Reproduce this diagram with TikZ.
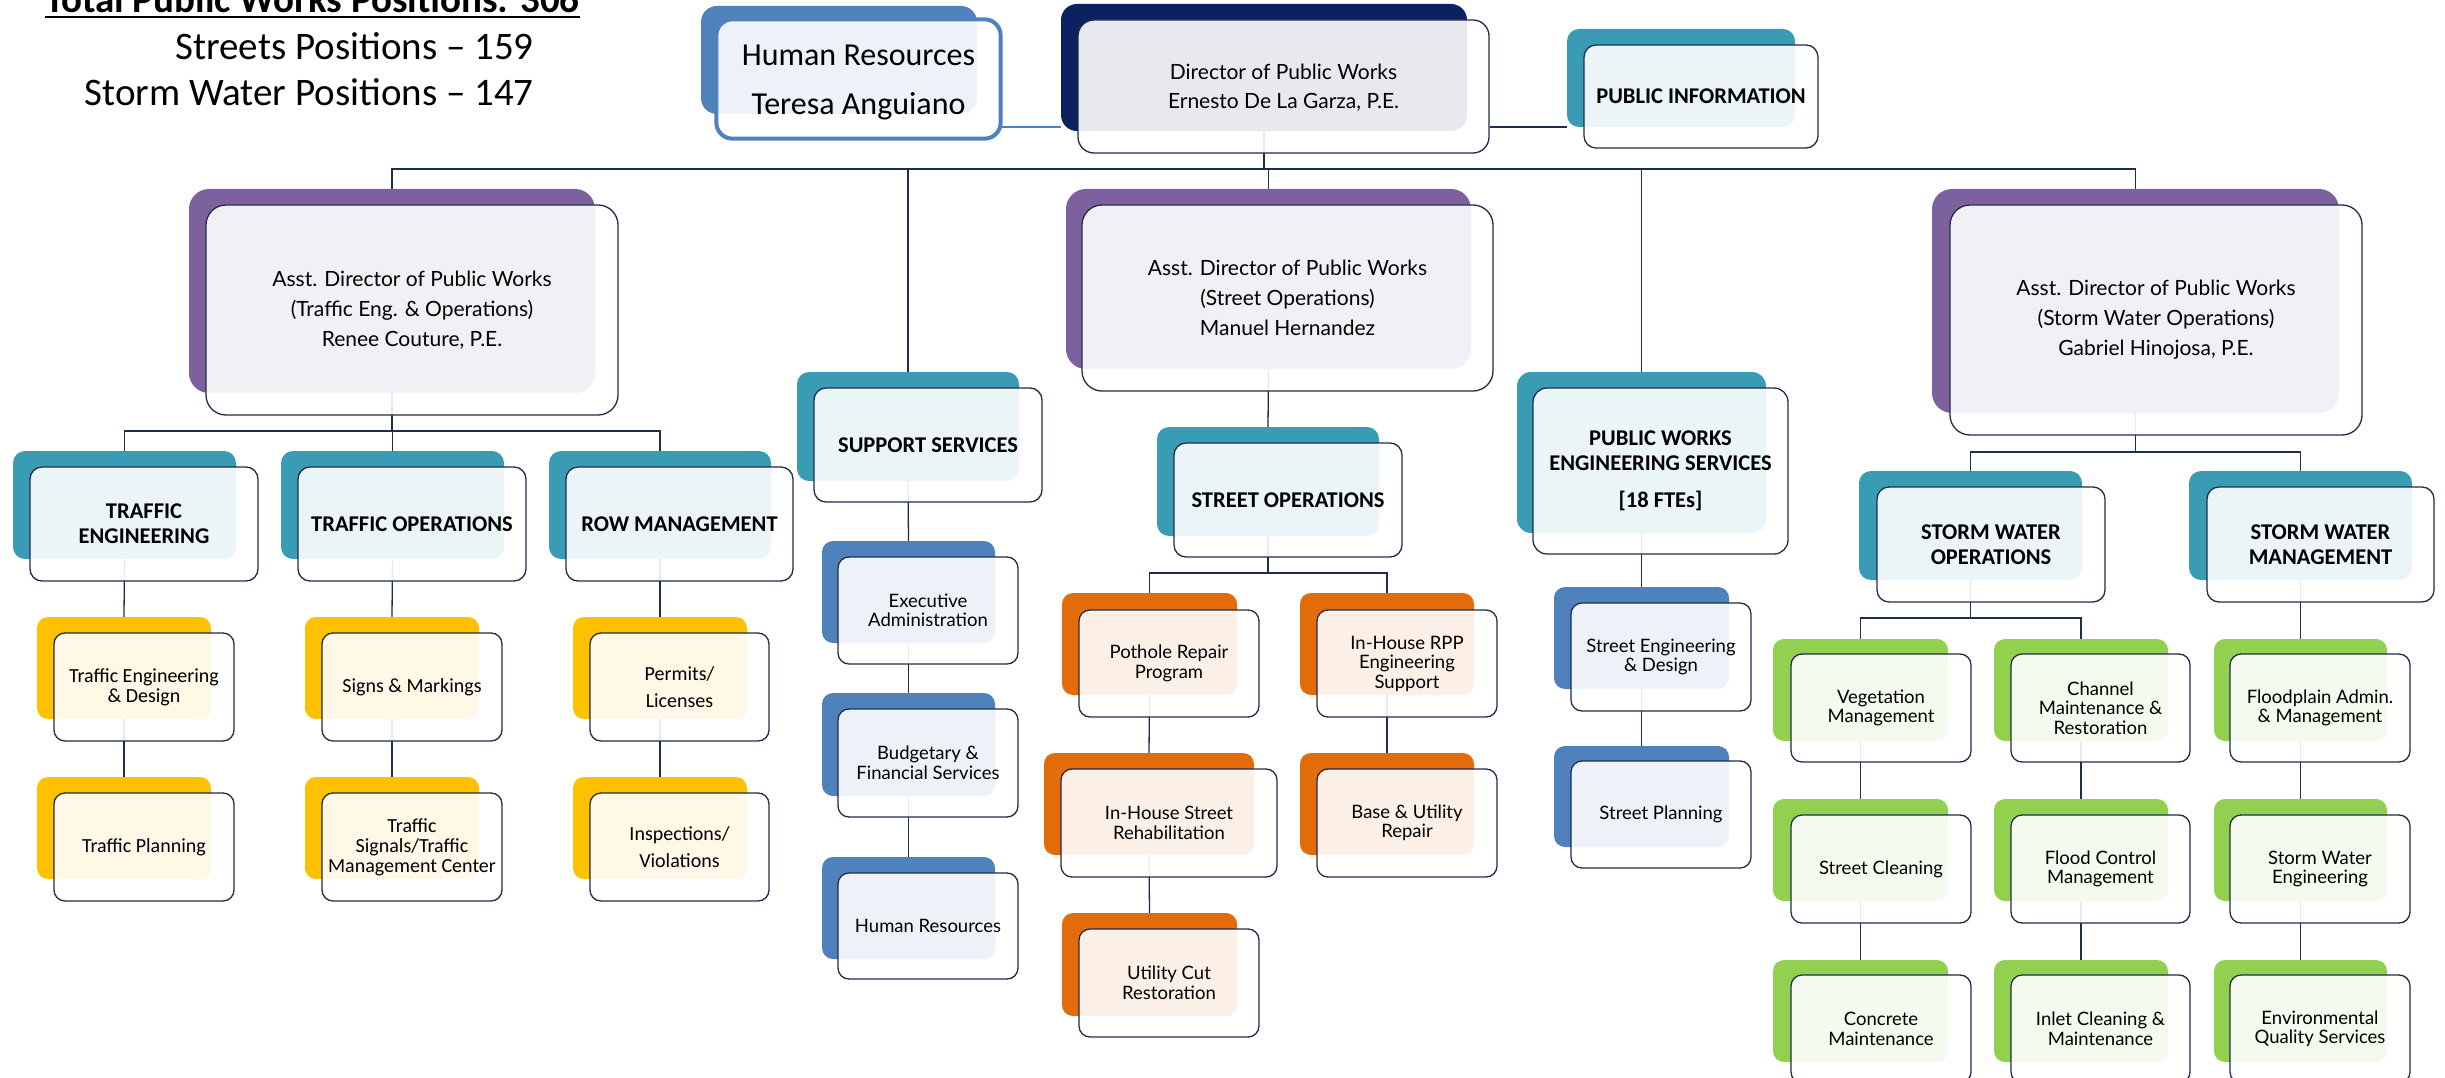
\documentclass[tikz,border=0pt]{standalone}
\usepackage{fontspec}
\setmainfont{Carlito}
\newfontfamily\latof{Lato}
\usetikzlibrary{fit}
\pgfdeclarelayer{bg}
\pgfsetlayers{bg,main}
\definecolor{navyc}{HTML}{0B2160}
\definecolor{tealc}{HTML}{3A9BB5}
\definecolor{purplec}{HTML}{7D619E}
\definecolor{bluec}{HTML}{4F81BD}
\definecolor{orangec}{HTML}{E36C0A}
\definecolor{yellowc}{HTML}{FFC000}
\definecolor{greenc}{HTML}{92D050}
\definecolor{linec}{HTML}{1F2D4A}
\tikzset{
  backbox/.style={inner sep=0pt, draw=none},
  frontbox/.style={inner sep=0pt, draw=linec, line width=1.3pt, fill=white, fill opacity=0.9},
  boxtext/.style={inner sep=0pt, align=center, text=black, anchor=center},
  conn/.style={draw=linec, line width=1.3pt},
  hrf/.style={font=\fontsize{32}{49}\selectfont, yshift=-3pt},
  asstf/.style={font=\latof\fontsize{21}{30}\selectfont},
  dirf/.style={font=\latof\fontsize{21}{29}\selectfont, yshift=-1pt},
  headf/.style={font=\bfseries\fontsize{22.5}{25}\selectfont},
  yelf/.style={font=\fontsize{20}{20}\selectfont},
  itemf/.style={font=\latof\fontsize{18.5}{19.5}\selectfont},
}
% name, colour, back corner 1, back corner 2, front corner 1, front corner 2, radius, style, text
\newcommand\ob[9]{%
  \node[backbox, fill=#2, rounded corners=#7, fit={(#3) (#4)}] (#1B) {};
  \node[frontbox, rounded corners=#7, fit={(#5) (#6)}] (#1) {};
  \node[boxtext, #8] (#1T) at (#1.center) {#9};}
\begin{document}
\begin{tikzpicture}[x=1pt,y=-1pt]
\path[use as bounding box] (0,0) rectangle (2445,1078);
\begin{pgfonlayer}{bg}
\fill[white] (0,0) rectangle (2445,1078);
\end{pgfonlayer}
\clip (0,0) rectangle (2445,1078);

% headline texts
\node[anchor=base west, inner sep=0pt, font=\bfseries\fontsize{39}{47}\selectfont] (title) at (45,13) {Total Public Works Positions: 306};
\draw[line width=2.5pt] ([yshift=-4pt]title.base west) -- ([yshift=-4pt]title.base east);
\node[anchor=base east, inner sep=0pt, font=\fontsize{39}{47}\selectfont] (streets) at (534,60) {Streets Positions – 159};
\node[anchor=base east, inner sep=0pt, font=\fontsize{39}{47}\selectfont] (stormpos) at (534,106) {Storm Water Positions – 147};

% top row
\ob{hrtop}{bluec}{701,6}{977,114}{717,20}{1000,138}{16pt}{hrf}{Human Resources\\Teresa Anguiano}
\draw[draw=bluec, line width=4pt, rounded corners=16pt] (hrtop.south west) rectangle (hrtop.north east);
\ob{director}{navyc}{1061,4}{1467,131}{1078,20}{1489,153}{16pt}{dirf}{Director of Public Works\\Ernesto De La Garza, P.E.}
\ob{pubinfo}{tealc}{1567,29}{1795,127}{1584,45}{1818,148}{12pt}{headf}{PUBLIC INFORMATION}

% assistant directors
\ob{trafA}{purplec}{189,189}{595,393}{206,205}{618,415}{20pt}{asstf}{Asst. Director of Public Works\\(Traffic Eng. \& Operations)\\Renee Couture, P.E.}
\ob{streetA}{purplec}{1066,189}{1471,369}{1082,205}{1493,391}{20pt}{asstf}{Asst. Director of Public Works\\(Street Operations)\\Manuel Hernandez}
\ob{stormA}{purplec}{1932,189}{2339,413}{1950,205}{2362,435}{20pt}{asstf}{Asst. Director of Public Works\\(Storm Water Operations)\\Gabriel Hinojosa, P.E.}

% traffic
\ob{te}{tealc}{13,451}{236,559}{30,467}{258,581}{12pt}{headf}{TRAFFIC\\ENGINEERING}
\ob{tops}{tealc}{281,451}{504,559}{298,467}{526,581}{12pt}{headf}{TRAFFIC OPERATIONS}
\ob{row}{tealc}{549,451}{771,559}{566,467}{793,581}{12pt}{headf}{ROW MANAGEMENT}
\ob{ted}{yellowc}{37,617}{211,719}{54,633}{234,741}{11pt}{yelf}{Traffic Engineering\\\& Design}
\ob{tp}{yellowc}{37,777}{211,879}{54,793}{234,901}{11pt}{yelf}{Traffic Planning}
\ob{sm}{yellowc}{305,617}{479,719}{322,633}{502,741}{11pt}{yelf}{Signs \& Markings}
\ob{ts}{yellowc}{305,777}{479,879}{322,793}{502,901}{11pt}{yelf}{Traffic\\Signals/Traffic\\Management Center}
\ob{pl}{yellowc}{573,617}{747,719}{590,633}{769,741}{11pt}{yelf}{Permits/\\[7pt]Licenses}
\ob{iv}{yellowc}{573,777}{747,879}{590,793}{769,901}{11pt}{yelf}{Inspections/\\[7pt]Violations}

% support services
\ob{ss}{tealc}{797,372}{1019,481}{814,388}{1042,502}{12pt}{headf}{SUPPORT SERVICES}
\ob{ea}{bluec}{822,541}{995,643}{838,557}{1018,664}{11pt}{itemf}{Executive\\Administration}
\ob{bf}{bluec}{822,693}{995,796}{838,709}{1018,817}{11pt}{itemf}{Budgetary \&\\Financial Services}
\ob{hrb}{bluec}{822,857}{995,959}{838,873}{1018,979}{11pt}{itemf}{Human Resources}

% street operations
\ob{so}{tealc}{1157,427}{1379,536}{1174,443}{1402,557}{12pt}{headf}{STREET OPERATIONS}
\ob{pr}{orangec}{1062,593}{1237,695}{1079,610}{1259,717}{11pt}{itemf}{Pothole Repair\\Program}
\ob{rpp}{orangec}{1300,593}{1474,695}{1317,610}{1497,717}{11pt}{itemf}{In-House RPP\\Engineering\\Support}
\ob{rehab}{orangec}{1044,753}{1254,855}{1061,769}{1277,877}{11pt}{itemf}{In-House Street\\Rehabilitation}
\ob{bu}{orangec}{1300,753}{1474,855}{1317,769}{1497,877}{11pt}{itemf}{Base \& Utility\\Repair}
\ob{uc}{orangec}{1062,913}{1237,1016}{1079,929}{1259,1037}{11pt}{itemf}{Utility Cut\\Restoration}

% public works engineering services
\ob{pwes}{tealc}{1517,372}{1766,533}{1533,388}{1788,554}{14pt}{headf}{PUBLIC WORKS\\ENGINEERING SERVICES\\[12pt]{[18 FTEs]}}
\ob{sed}{bluec}{1554,587}{1729,689}{1571,603}{1751,711}{11pt}{itemf}{Street Engineering\\\& Design}
\ob{spl}{bluec}{1554,746}{1729,847}{1571,761}{1751,868}{11pt}{itemf}{Street Planning}

% storm water
\ob{swo}{tealc}{1859,471}{2082,580}{1877,487}{2105,602}{12pt}{headf}{STORM WATER\\OPERATIONS}
\ob{swm}{tealc}{2189,471}{2412,580}{2207,487}{2434,602}{12pt}{headf}{STORM WATER\\MANAGEMENT}
\ob{vm}{greenc}{1773,639}{1948,741}{1791,654}{1971,762}{11pt}{itemf}{Vegetation\\Management}
\ob{cm}{greenc}{1994,639}{2168,741}{2011,654}{2190,762}{11pt}{itemf}{Channel\\Maintenance \&\\Restoration}
\ob{fa}{greenc}{2214,639}{2387,741}{2230,654}{2410,762}{11pt}{itemf}{Floodplain Admin.\\\& Management}
\ob{sc}{greenc}{1773,799}{1948,901}{1791,815}{1971,923}{11pt}{itemf}{Street Cleaning}
\ob{fc}{greenc}{1994,799}{2168,901}{2011,815}{2190,923}{11pt}{itemf}{Flood Control\\Management}
\ob{swe}{greenc}{2214,799}{2387,901}{2230,815}{2410,923}{11pt}{itemf}{Storm Water\\Engineering}
\ob{cmn}{greenc}{1773,960}{1948,1062}{1791,975}{1971,1083}{11pt}{itemf}{Concrete\\Maintenance}
\ob{icm}{greenc}{1994,960}{2168,1062}{2011,975}{2190,1083}{11pt}{itemf}{Inlet Cleaning \&\\Maintenance}
\ob{eqs}{greenc}{2214,960}{2387,1062}{2230,975}{2410,1083}{11pt}{itemf}{Environmental\\Quality Services}

% connectors
\begin{pgfonlayer}{bg}
\coordinate (dirline) at (0,127);
\coordinate (mainbus) at (0,169);
\coordinate (tbus) at (0,431);
\coordinate (sbus) at (0,573);
\coordinate (swbus) at (0,452);
\coordinate (swobus) at (0,618);
\draw[draw=bluec, line width=2.7pt] (hrtop.east |- dirline) -- (directorB.west |- dirline);
\draw[draw=linec, line width=2.4pt] (director.east |- dirline) -- (pubinfoB.west |- dirline);
% main bus
\draw[conn] (trafAB.north) -- (trafAB.north |- mainbus) -- (stormAB.north |- mainbus) -- (stormAB.north);
\draw[conn] (directorB.south) -- (directorB.south |- mainbus);
\draw[conn] (ssB.north) -- (ssB.north |- mainbus);
\draw[conn] (streetAB.north) -- (streetAB.north |- mainbus);
\draw[conn] (pwesB.north) -- (pwesB.north |- mainbus);
% traffic
\draw[conn] (trafAB.south) -- (trafAB.south |- tbus);
\draw[conn] (teB.north) -- (teB.north |- tbus) -- (rowB.north |- tbus) -- (rowB.north);
\draw[conn] (topsB.north) -- (topsB.north |- tbus);
\draw[conn] (teB.south) -- (tedB.north);
\draw[conn] (tedB.south) -- (tpB.north);
\draw[conn] (topsB.south) -- (smB.north);
\draw[conn] (smB.south) -- (tsB.north);
\draw[conn] (rowB.south) -- (plB.north);
\draw[conn] (plB.south) -- (ivB.north);
% support
\draw[conn] (ssB.south) -- (eaB.north);
\draw[conn] (eaB.south) -- (bfB.north);
\draw[conn] (bfB.south) -- (hrbB.north);
% street
\draw[conn] (streetAB.south) -- (soB.north);
\draw[conn] (soB.south) -- (soB.south |- sbus);
\draw[conn] (prB.north) -- (prB.north |- sbus) -- (rppB.north |- sbus) -- (rppB.north);
\draw[conn] (prB.south) -- (rehabB.north);
\draw[conn] (rehabB.south) -- (ucB.north);
\draw[conn] (rppB.south) -- (buB.north);
% pwes
\draw[conn] (pwesB.south) -- (sedB.north);
\draw[conn] (sedB.south) -- (splB.north);
% storm
\draw[conn] (stormAB.south) -- (stormAB.south |- swbus);
\draw[conn] (swoB.north) -- (swoB.north |- swbus) -- (swmB.north |- swbus) -- (swmB.north);
\draw[conn] (swoB.south) -- (swoB.south |- swobus);
\draw[conn] (vmB.north) -- (vmB.north |- swobus) -- (cmB.north |- swobus) -- (cmB.north);
\draw[conn] (swmB.south) -- (faB.north);
\draw[conn] (vmB.south) -- (scB.north);
\draw[conn] (scB.south) -- (cmnB.north);
\draw[conn] (cmB.south) -- (fcB.north);
\draw[conn] (fcB.south) -- (icmB.north);
\draw[conn] (faB.south) -- (sweB.north);
\draw[conn] (sweB.south) -- (eqsB.north);
\end{pgfonlayer}
\end{tikzpicture}
\end{document}
